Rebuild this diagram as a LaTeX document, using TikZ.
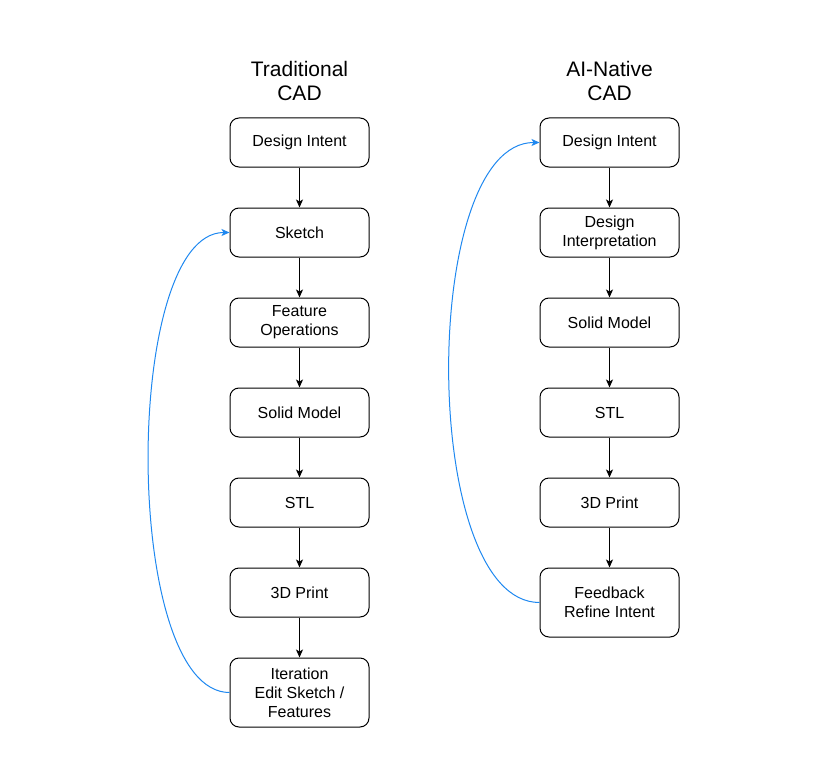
\documentclass[tikz,border=0pt]{standalone}
\usepackage{fontspec}
\setmainfont{Liberation Sans}
\usetikzlibrary{arrows.meta}
\definecolor{loopblue}{RGB}{30,136,240}
\begin{document}
\begin{tikzpicture}[x=1pt,y=-1pt,
  box/.style={draw=black,line width=1pt,rounded corners=9pt,minimum width=139pt,minimum height=49pt,
    inner sep=0pt,align=center,font=\fontsize{16pt}{19pt}\selectfont},
  tallbox/.style={box,minimum height=69pt},
  title/.style={align=center,font=\fontsize{21pt}{24.5pt}\selectfont},
  flow/.style={line width=0.9pt,-{Stealth[length=8pt,width=7pt,inset=2pt]}},
  loop/.style={draw=loopblue,line width=1pt,-{Stealth[length=8pt,width=7pt,inset=2pt]}}]
\useasboundingbox (0,0) rectangle (827,773);
% titles
\node[title] (t1) at (299.5,81) {Traditional\\CAD};
\node[title] (t2) at (609.5,81) {AI-Native\\CAD};
% left column
\node[box] (l1) at (299.5,142.5) {Design Intent};
\node[box] (l2) at (299.5,232.5) {Sketch};
\node[box] (l3) at (299.5,322.5) {Feature\\Operations};
\node[box] (l4) at (299.5,412.5) {Solid Model};
\node[box] (l5) at (299.5,502.5) {STL};
\node[box] (l6) at (299.5,592.5) {3D Print};
\node[tallbox] (l7) at (299.5,692.5) {Iteration\\Edit Sketch /\\Features};
% right column
\node[box] (r1) at (609.5,142.5) {Design Intent};
\node[box] (r2) at (609.5,232.5) {Design\\Interpretation};
\node[box] (r3) at (609.5,322.5) {Solid Model};
\node[box] (r4) at (609.5,412.5) {STL};
\node[box] (r5) at (609.5,502.5) {3D Print};
\node[tallbox] (r6) at (609.5,602.5) {Feedback\\Refine Intent};
% flows
\foreach \a/\b in {l1/l2,l2/l3,l3/l4,l4/l5,l5/l6,l6/l7,r1/r2,r2/r3,r3/r4,r4/r5,r5/r6}
  \draw[flow] (\a.south) -- (\b.north);
% loops
\draw[loop] (l7.west) to[out=180,in=180,looseness=0.6] (l2.west);
\draw[loop] (r6.west) to[out=180,in=180,looseness=0.67] (r1.west);
\end{tikzpicture}
\end{document}
